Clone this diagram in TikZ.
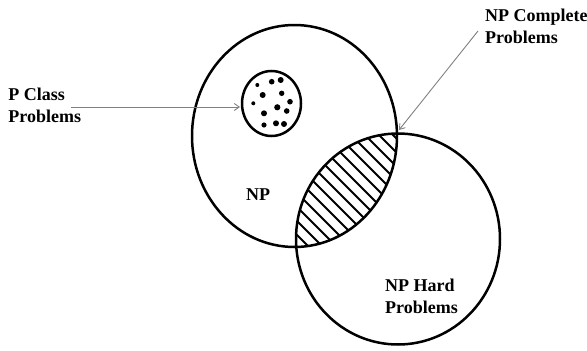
\documentclass[tikz,border=0pt]{standalone}
\usepackage{fontspec}
\setmainfont{Liberation Serif}
\usetikzlibrary{arrows.meta}
\tikzset{
  setline/.style={black, line width=2.5pt},
  hatchline/.style={black, line width=2.1pt},
  pointer/.style={black!50, line width=0.9pt, -{Straight Barb[length=5pt,width=7pt]}},
  caption/.style={font=\fontsize{18}{22}\selectfont\bfseries, inner sep=0pt, align=left},
}
\begin{document}
\begin{tikzpicture}[x=1pt,y=-1pt]
\useasboundingbox (0,0) rectangle (587,351);
\coordinate (npc) at (294.5,136);
\coordinate (hardc) at (398,239);
\coordinate (pc) at (271.5,103.5);
\begin{scope}
\clip (npc) ellipse [x radius=102.5pt, y radius=111pt];
\clip (hardc) ellipse [x radius=102pt, y radius=105.5pt];
\foreach \k in {34,48,...,272}
  \draw[hatchline] (\k,0) -- (\k+351,351);
\end{scope}
\draw[setline] (npc) ellipse [x radius=102.5pt, y radius=111pt];
\draw[setline] (hardc) ellipse [x radius=102pt, y radius=105.5pt];
\draw[setline] (pc) ellipse [x radius=29.5pt, y radius=32.5pt];
\foreach \x/\y/\r in {257.3/85/2, 271.7/81.7/2.8, 280.7/80/3, 262.7/95/3,
  281.7/93.3/2.7, 253.3/103.3/2, 277.3/107.3/3.1, 290/101.7/2.8, 264/113.3/3,
  286.7/111/2.8, 264/125/2.6, 276/123.3/3, 284/124/3}
  \fill (\x,\y) circle (\r pt);
\node[caption, anchor=base west] (pclass) at (8.3,122.7) {P Class\\Problems};
\node[caption, anchor=base west] (npcomp) at (485,43.3) {NP Complete\\Problems};
\node[caption, anchor=base] (nplabel) at (258,200) {NP};
\node[caption, anchor=base west] (hardlabel) at (385,313.3) {NP Hard\\Problems};
\coordinate (ptail) at (71,107);
\coordinate (phead) at (240,107);
\draw[pointer] (ptail) -- (phead);
\coordinate (ctail) at (478,31);
\coordinate (chead) at (399,130);
\draw[pointer] (ctail) -- (chead);
\end{tikzpicture}
\end{document}
